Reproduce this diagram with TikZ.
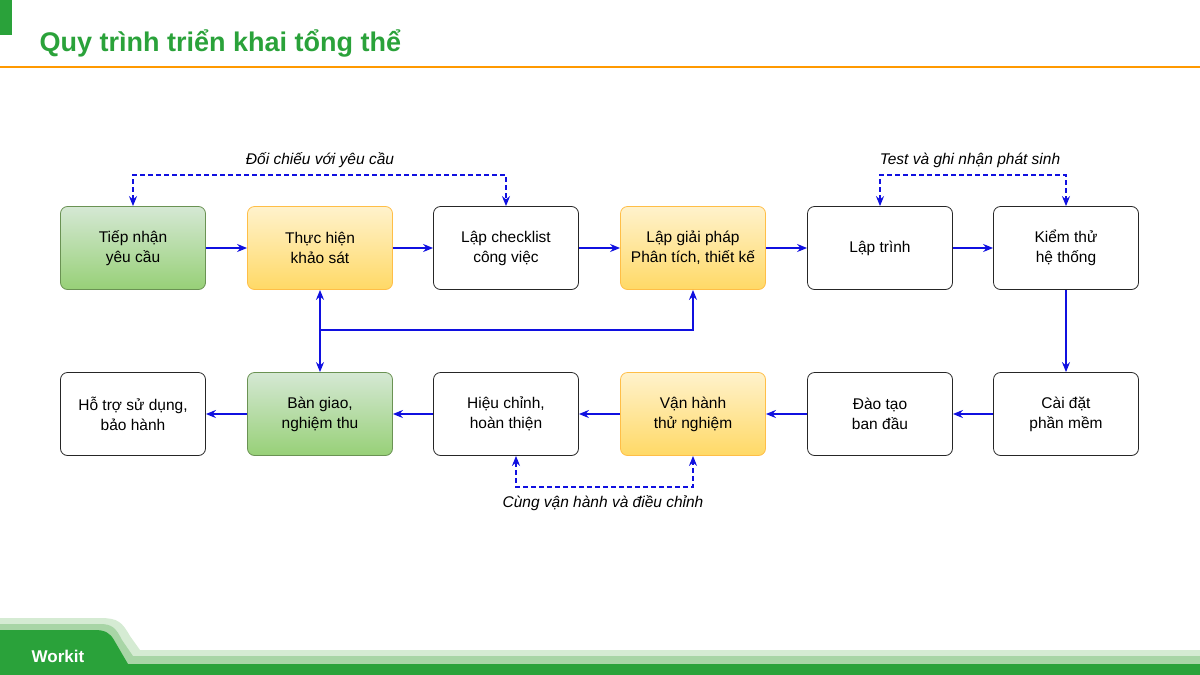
\documentclass[tikz,border=0pt]{standalone}
\usepackage{fontspec}
\setmainfont{Liberation Sans}
\usetikzlibrary{arrows.meta}
\definecolor{wgreen}{HTML}{2AA23A}
\definecolor{lgreen}{HTML}{D5EBD3}
\definecolor{mgreen}{HTML}{A8D5A6}
\definecolor{blu}{HTML}{1010E0}
\definecolor{gtop}{HTML}{D5E8D4}
\definecolor{gbot}{HTML}{97D077}
\definecolor{ytop}{HTML}{FFF2CC}
\definecolor{ybot}{HTML}{FFD966}
\begin{document}
\begin{tikzpicture}[x=1pt,y=-1pt,
 box/.style={draw=black!85,rounded corners=7pt,minimum width=145pt,minimum height=83pt,align=center,font=\fontsize{15.5}{20}\selectfont,line width=0.8pt},
 gbox/.style={box,draw=gbot!70!black,top color=gtop,bottom color=gbot},
 ybox/.style={box,draw=ybot!70!orange,top color=ytop,bottom color=ybot},
 arr/.style={blu,line width=1.4pt,-{Stealth[length=10pt,width=8pt]}},
 darr/.style={blu,line width=1.4pt,dash pattern=on 5pt off 3pt,{Stealth[length=10pt,width=8pt]}-{Stealth[length=10pt,width=8pt]}},
 lab/.style={font=\fontsize{15.5}{18}\selectfont\itshape}]
\useasboundingbox (0,0) rectangle (1200,675);
\fill[wgreen] (0,0) rectangle (12,35);
\node[anchor=west,font=\fontsize{27}{30}\selectfont\bfseries,text=wgreen] (title) at (36,43) {Quy trình triển khai tổng thể};
\draw[orange!80!yellow,line width=2pt] (0,67) -- (1200,67);
% footer
\fill[lgreen] (0,618) -- (100,618) .. controls (118,618) and (122,622) .. (130,636) -- (140,650) -- (1200,650) -- (1200,675) -- (0,675) -- cycle;
\fill[mgreen] (0,624) -- (100,624) .. controls (112,624) and (116,628) .. (122,640) -- (133,656) -- (1200,656) -- (1200,675) -- (0,675) -- cycle;
\fill[wgreen] (0,630) -- (95,630) .. controls (105,630) and (110,633) .. (114,640) -- (128,664) -- (1200,664) -- (1200,675) -- (0,675) -- cycle;
\node[text=white,font=\fontsize{17}{20}\selectfont\bfseries] (logo) at (58,656) {Workit};
% nodes
\node[gbox] (a) at (133,248) {Tiếp nhận\\yêu cầu};
\node[ybox] (b) at (320,248) {Thực hiện\\khảo sát};
\node[box] (c) at (506,248) {Lập checklist\\công việc};
\node[ybox] (d) at (693,248) {Lập giải pháp\\Phân tích, thiết kế};
\node[box] (e) at (880,248) {Lập trình};
\node[box] (f) at (1066,248) {Kiểm thử\\hệ thống};
\node[box] (g) at (1066,414) {Cài đặt\\phần mềm};
\node[box] (h) at (880,414) {Đào tạo\\ban đầu};
\node[ybox] (i) at (693,414) {Vận hành\\thử nghiệm};
\node[box] (j) at (506,414) {Hiệu chỉnh,\\hoàn thiện};
\node[gbox] (k) at (320,414) {Bàn giao,\\nghiệm thu};
\node[box] (l) at (133,414) {Hỗ trợ sử dụng,\\bảo hành};
\foreach \s/\t in {a/b,b/c,c/d,d/e,e/f}{\draw[arr] (\s.east) -- (\t.west);}
\draw[arr] (f.south) -- (g.north);
\foreach \s/\t in {g/h,h/i,i/j,j/k,k/l}{\draw[arr] (\s.west) -- (\t.east);}
\coordinate (m) at (320,330);
\draw[arr] (m) -- (b.south);
\draw[arr] (m) -- (k.north);
\draw[arr] (m) -| (d.south);
\draw[darr] (a.north) -- ++(0,-31) -| (c.north);
\draw[darr] (e.north) -- ++(0,-31) -| (f.north);
\draw[darr] ([xshift=10pt]j.south) -- ++(0,31) -| (i.south);
\node[lab] (l1) at (320,160) {Đối chiếu với yêu cầu};
\node[lab] (l2) at (970,160) {Test và ghi nhận phát sinh};
\node[lab] (l3) at (603,503) {Cùng vận hành và điều chỉnh};
\end{tikzpicture}
\end{document}
